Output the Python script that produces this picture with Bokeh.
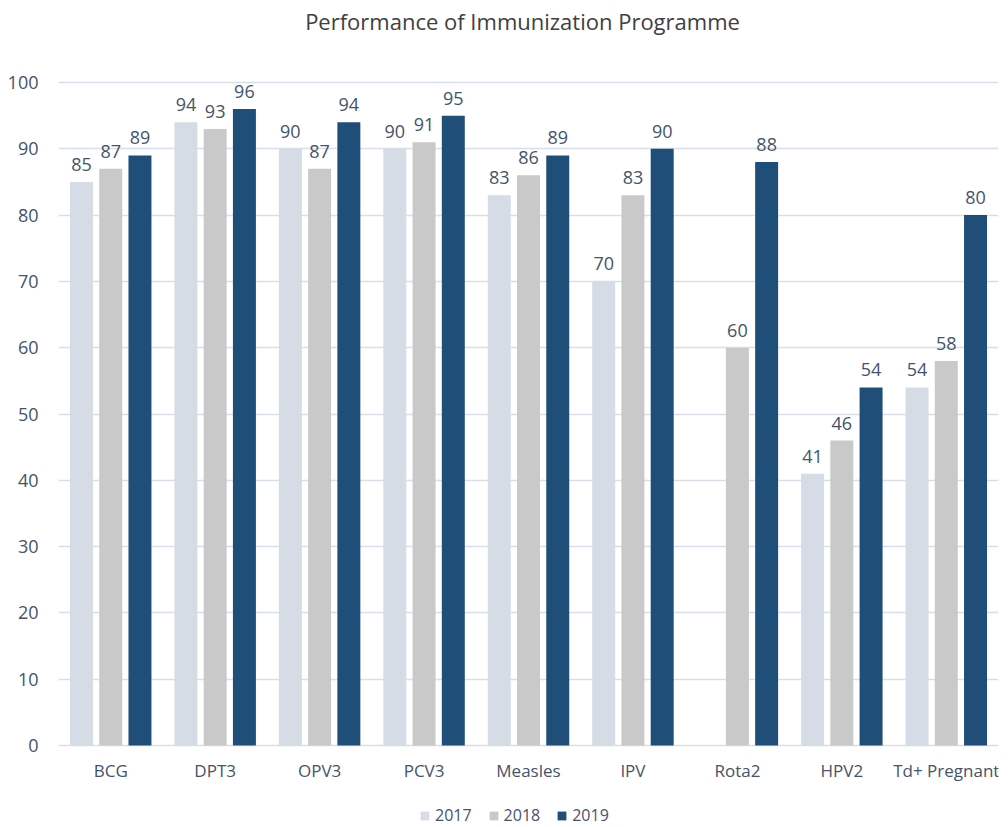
from bokeh.plotting import figure
from bokeh.models import FactorRange, ColumnDataSource, Legend, LegendItem, Label, Range1d
from bokeh.transform import dodge
from bokeh.core.properties import value
from bokeh.embed import file_html
from bokeh.resources import INLINE

categories = ["BCG", "DPT3", "OPV3", "PCV3", "Measles", "IPV", "Rota2", "HPV2", "Td+ Pregnant"]
years = ["2017", "2018", "2019"]
v2017 = [85, 94, 90, 90, 83, 70, None, 41, 54]
v2018 = [87, 93, 87, 91, 86, 83, 60, 46, 58]
v2019 = [89, 96, 94, 95, 89, 90, 88, 54, 80]
y_ticks = list(range(0, 101, 10))
title_text = "Performance of Immunization Programme"

colors = ["#D6DCE5", "#C9C9C9", "#1F4E79"]
offsets = [-0.28, 0.0, 0.28]
FONT = "Open Sans"
LABEL_COLOR = "#44546A"

# layout: whole page height is the frame; value axis 0..100 occupies pixels 82..745
FW, FH = 940, 827
TOP_PX, BOT_PX = 82, 745
px_per_unit = (BOT_PX - TOP_PX) / 100.0
y_lo = -(FH - BOT_PX) / px_per_unit
y_hi = 100 + TOP_PX / px_per_unit

p = figure(x_range=FactorRange(*categories), y_range=Range1d(y_lo, y_hi),
           frame_width=FW, frame_height=FH, output_backend="svg", toolbar_location=None,
           min_border_left=58, min_border_right=2, min_border_top=0, min_border_bottom=0)

items = []
for yr, vals, col, off in zip(years, [v2017, v2018, v2019], colors, offsets):
    cats = [c for c, v in zip(categories, vals) if v is not None]
    vv = [v for v in vals if v is not None]
    src = ColumnDataSource(dict(cat=cats, val=vv, lab=[str(v) for v in vv]))
    r = p.vbar(x=dodge("cat", off, range=p.x_range), top="val", width=0.22, source=src,
               fill_color=col, line_color=None)
    p.text(x=dodge("cat", off, range=p.x_range), y="val", text="lab", source=src,
           text_align="center", text_baseline="bottom", y_offset=-11,
           text_font=value(FONT), text_font_size="18px", text_color=LABEL_COLOR)
    items.append(LegendItem(label=yr, renderers=[r]))

title = Label(x=464, y=FH - 20, x_units="screen", y_units="screen", text=title_text,
              text_align="center", text_baseline="middle", text_font=FONT,
              text_font_size="22px", text_color="#404040")
p.add_layout(title)

legend = Legend(items=items, orientation="horizontal", location=(361, 1),
                border_line_color=None, background_fill_alpha=0,
                label_text_font=FONT, label_text_font_size="16px", label_text_color=LABEL_COLOR,
                glyph_width=11, glyph_height=11, spacing=16, label_standoff=5,
                margin=0, padding=0)
p.add_layout(legend)

p.xgrid.grid_line_color = None
p.ygrid.grid_line_color = "#D9DFE8"
p.ygrid.grid_line_width = 1.5
p.ygrid.ticker = y_ticks
p.yaxis.ticker = y_ticks
p.outline_line_color = None
p.xaxis.fixed_location = 0

for ax in (p.xaxis, p.yaxis):
    ax.axis_line_color = None
    ax.major_tick_line_color = None
    ax.minor_tick_line_color = None
    ax.major_label_text_font = FONT
    ax.major_label_text_color = LABEL_COLOR
p.yaxis.major_label_text_font_size = "18px"
p.yaxis.major_label_standoff = 14
p.xaxis.major_label_text_font_size = "17px"
p.xaxis.major_label_standoff = 7
p.x_range.range_padding = 0
p.x_range.group_padding = 0

open("out.html", "w").write(file_html(p, INLINE))
